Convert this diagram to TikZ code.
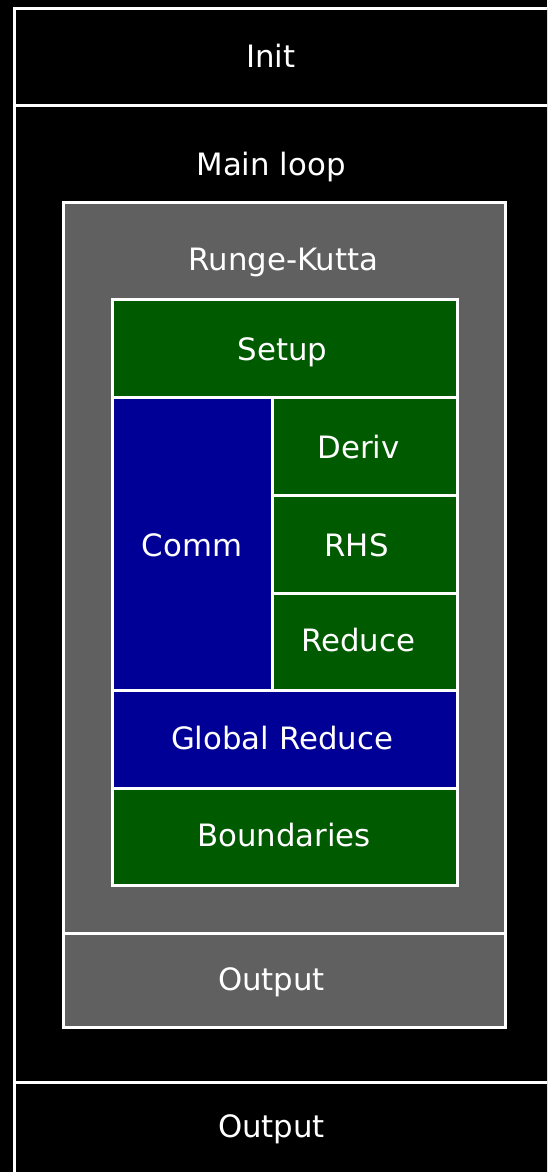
\documentclass[tikz,border=0pt]{standalone}
\usepackage{fontspec}
\setmainfont{DejaVu Sans}
\definecolor{rkgray}{RGB}{96,96,96}
\definecolor{stepgreen}{RGB}{0,90,0}
\definecolor{commblue}{RGB}{0,0,150}
\begin{document}
\begin{tikzpicture}[x=1pt,y=-1pt,
  box/.style={draw=white, line width=3pt, rectangle, inner sep=0pt, outer sep=0pt},
  outerbox/.style={box, fill=black},
  graybox/.style={box, fill=rkgray},
  greenbox/.style={box, fill=stepgreen},
  bluebox/.style={box, fill=commblue},
  lbl/.style={text=white, anchor=base, inner sep=0pt, font=\fontsize{30.8}{36}\selectfont}]
\useasboundingbox (0,0) rectangle (547,1172);
\clip (0,0) rectangle (547,1172);
\fill[black] (0,0) rectangle (547,1172);
% outer frames
\node[outerbox, minimum width=586pt, minimum height=96.5pt] (init) at (307,56.75) {};
\node[outerbox, minimum width=586pt, minimum height=977pt] (main) at (307,593.5) {};
\node[outerbox, minimum width=586pt, minimum height=91pt] (out) at (307,1127.5) {};
% Runge-Kutta
\node[graybox, minimum width=442pt, minimum height=731pt] (rk) at (284,567.5) {};
\node[graybox, minimum width=442pt, minimum height=94pt] (rkout) at (284,980) {};
% inner steps
\node[greenbox, minimum width=345pt, minimum height=98pt] (setup) at (284.5,348) {};
\node[bluebox, minimum width=160pt, minimum height=293pt] (comm) at (192,543.5) {};
\node[greenbox, minimum width=185pt, minimum height=98pt] (deriv) at (364.5,446) {};
\node[greenbox, minimum width=185pt, minimum height=98pt] (rhs) at (364.5,544) {};
\node[greenbox, minimum width=185pt, minimum height=97pt] (reduce) at (364.5,641.5) {};
\node[bluebox, minimum width=345pt, minimum height=98pt] (global) at (284.5,739) {};
\node[greenbox, minimum width=345pt, minimum height=97pt] (bound) at (284.5,836.5) {};
% labels
\node[lbl] (tinit) at (271,67) {Init};
\node[lbl] (tmain) at (271,175) {Main loop};
\node[lbl] (trk) at (283.5,270) {Runge-Kutta};
\node[lbl] (tsetup) at (282.5,360) {Setup};
\node[lbl] (tderiv) at (358.5,458) {Deriv};
\node[lbl] (tcomm) at (192,556) {Comm};
\node[lbl] (trhs) at (356.5,556) {RHS};
\node[lbl] (treduce) at (358,651) {Reduce};
\node[lbl] (tglobal) at (282,749) {Global Reduce};
\node[lbl] (tbound) at (284,846) {Boundaries};
\node[lbl] (trkout) at (271.5,990) {Output};
\node[lbl] (tout) at (271.5,1137) {Output};
\end{tikzpicture}
\end{document}
